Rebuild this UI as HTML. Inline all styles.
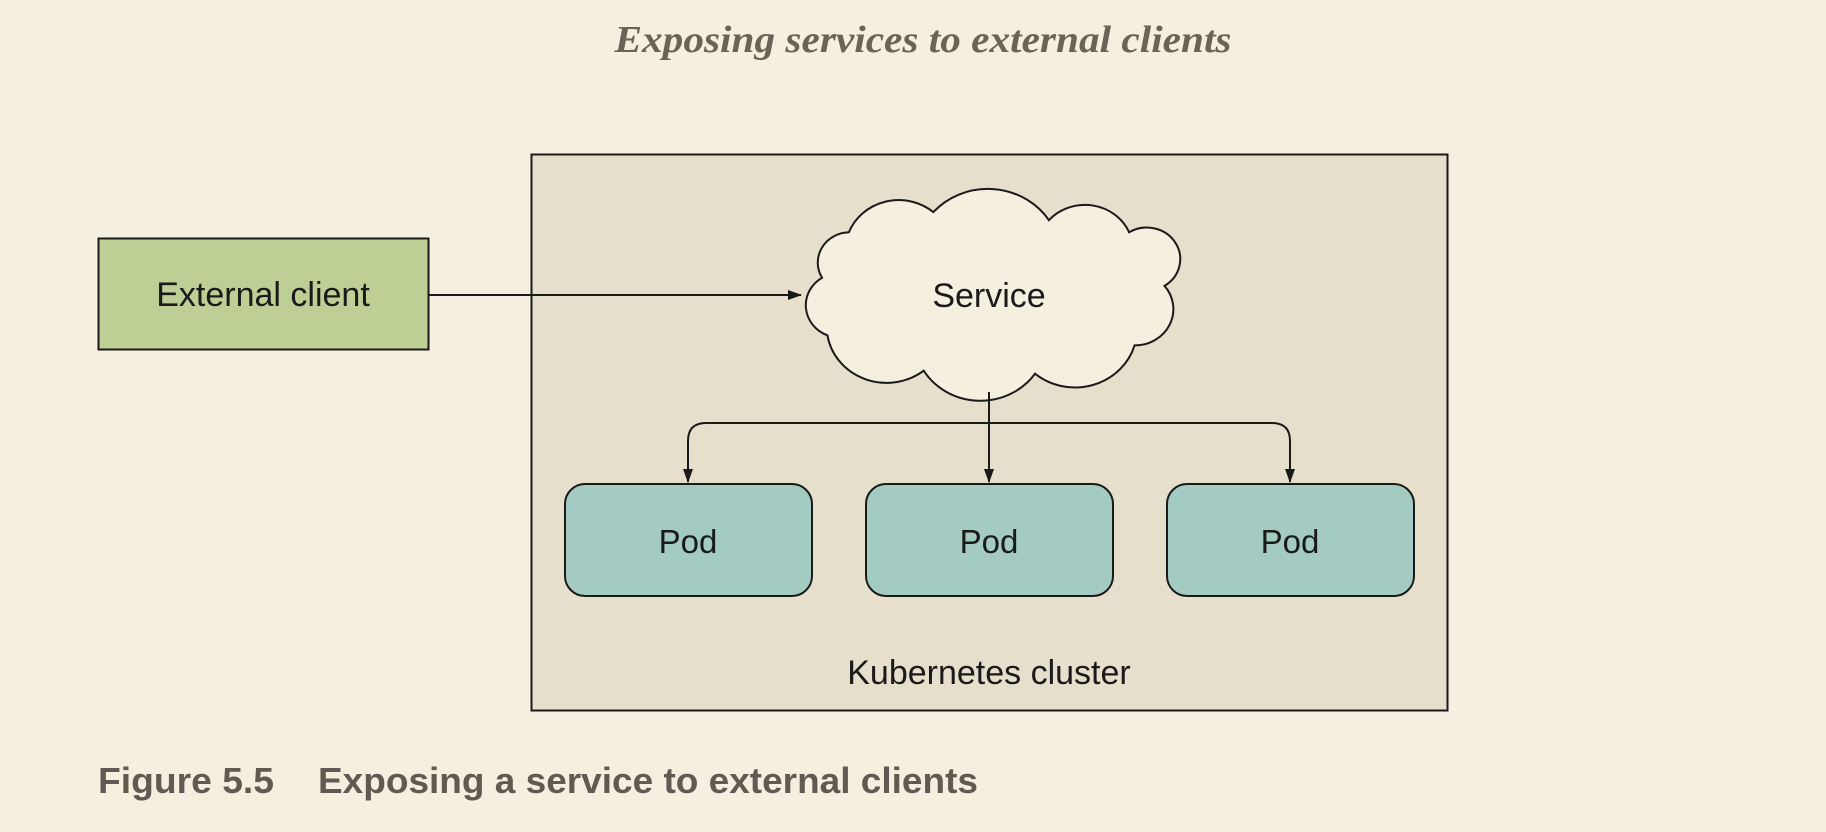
<!DOCTYPE html>
<html><head><meta charset="utf-8"><style>
html,body{margin:0;padding:0;background:#f5efdf;}
svg{display:block;}
</style></head><body>
<svg width="1826" height="832" viewBox="0 0 1826 832" xmlns="http://www.w3.org/2000/svg">
<defs>
<marker id="ah" markerWidth="14" markerHeight="10" refX="13" refY="5" orient="auto" markerUnits="userSpaceOnUse">
<path d="M0,0 L14,5 L0,10 Z" fill="#1a1a1a"/>
</marker>
</defs>
<rect width="1826" height="832" fill="#f5efdf"/>
<text x="923" y="52" text-anchor="middle" font-family="Liberation Serif, serif" font-style="italic" font-weight="bold" font-size="38" fill="#6b6358" textLength="617" lengthAdjust="spacingAndGlyphs">Exposing services to external clients</text>
<rect x="531.5" y="154.5" width="916" height="556" fill="#e5dfcc" stroke="#1a1a1a" stroke-width="2"/>
<rect x="98.5" y="238.5" width="330" height="111" fill="#bdcf95" stroke="#1a1a1a" stroke-width="2"/>
<text x="263" y="306" text-anchor="middle" font-family="Liberation Sans, sans-serif" font-size="34" fill="#1a1a1a">External client</text>
<line x1="429" y1="295" x2="801" y2="295" stroke="#1a1a1a" stroke-width="2" marker-end="url(#ah)"/>
<g transform="translate(989,0) scale(1.07,1.01) translate(-989,0)">
<path d="M833,275 A30,30 0 0 1 858,230 A50,50 0 0 1 937,210 A68,68 0 0 1 1045,218 A45,45 0 0 1 1120,230 A30,30 0 0 1 1153,283 A36,36 0 0 1 1125,342 A58,58 0 0 1 1032,370 A62,62 0 0 1 928,367 A56,56 0 0 1 838,332 A32,32 0 0 1 833,275 Z" fill="#f5efdf" stroke="#1a1a1a" stroke-width="2" vector-effect="non-scaling-stroke"/>
</g>
<text x="989" y="307" text-anchor="middle" font-family="Liberation Sans, sans-serif" font-size="34" fill="#1a1a1a">Service</text>
<line x1="989" y1="392" x2="989" y2="482" stroke="#1a1a1a" stroke-width="2" marker-end="url(#ah)"/>
<path d="M989,423 H706 Q688,423 688,441 V482" fill="none" stroke="#1a1a1a" stroke-width="2" marker-end="url(#ah)"/>
<path d="M989,423 H1272 Q1290,423 1290,441 V482" fill="none" stroke="#1a1a1a" stroke-width="2" marker-end="url(#ah)"/>
<rect x="565" y="484" width="247" height="112" rx="20" fill="#a3cbc2" stroke="#1a1a1a" stroke-width="2"/>
<rect x="866" y="484" width="247" height="112" rx="20" fill="#a3cbc2" stroke="#1a1a1a" stroke-width="2"/>
<rect x="1167" y="484" width="247" height="112" rx="20" fill="#a3cbc2" stroke="#1a1a1a" stroke-width="2"/>
<text x="688" y="553" text-anchor="middle" font-family="Liberation Sans, sans-serif" font-size="33" fill="#1a1a1a">Pod</text>
<text x="989" y="553" text-anchor="middle" font-family="Liberation Sans, sans-serif" font-size="33" fill="#1a1a1a">Pod</text>
<text x="1290" y="553" text-anchor="middle" font-family="Liberation Sans, sans-serif" font-size="33" fill="#1a1a1a">Pod</text>
<text x="989" y="684" text-anchor="middle" font-family="Liberation Sans, sans-serif" font-size="34" fill="#1a1a1a">Kubernetes cluster</text>
<text x="98" y="793" font-family="Liberation Sans Narrow, Liberation Sans, sans-serif" font-weight="bold" font-size="36" fill="#5f5a52" textLength="176" lengthAdjust="spacingAndGlyphs">Figure 5.5</text>
<text x="318" y="793" font-family="Liberation Sans Narrow, Liberation Sans, sans-serif" font-weight="bold" font-size="36" fill="#5f5a52" textLength="660" lengthAdjust="spacingAndGlyphs">Exposing a service to external clients</text>
</svg>
</body></html>
